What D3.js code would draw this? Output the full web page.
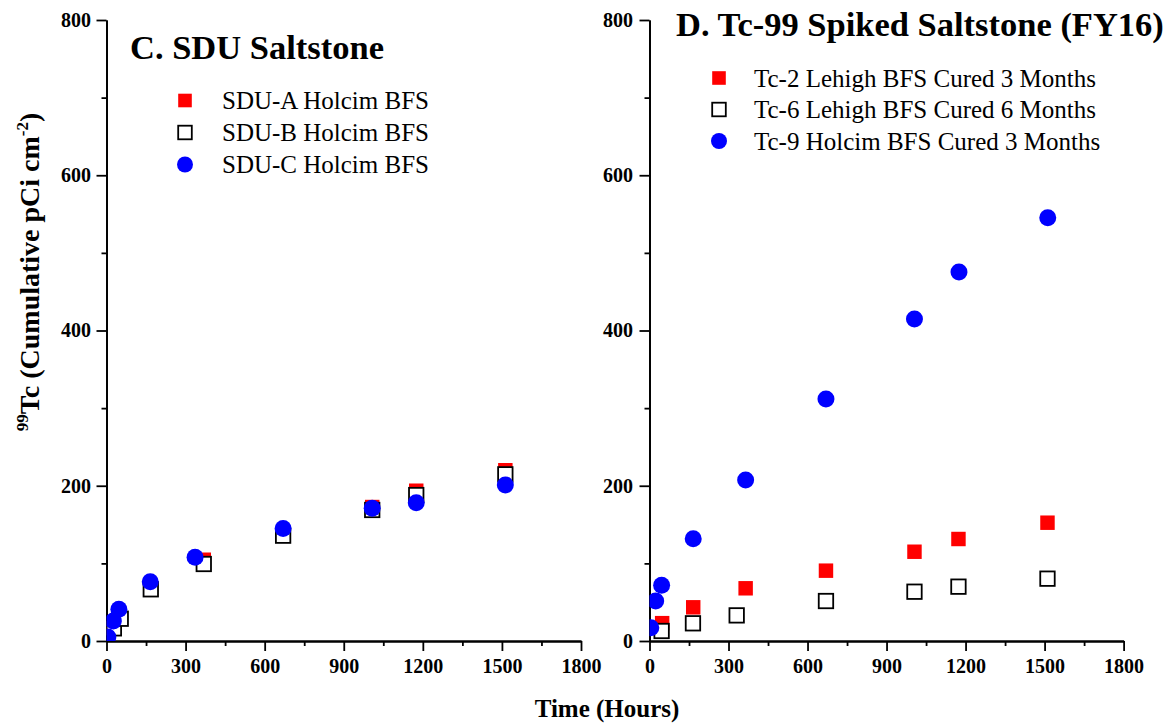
<!DOCTYPE html>
<html>
<head>
<meta charset="utf-8">
<script src="https://cdn.jsdelivr.net/npm/d3@7"></script>
<style>
	body { margin: 0; background: #fff; }
	svg { display: block; }
	text { font-family: "Liberation Serif", "Times New Roman", serif; fill: #000; }
</style>
</head>
<body>
<svg id="chart"></svg>
<script>
// ticks shared by both panels
const xMajorTicks = [0, 300, 600, 900, 1200, 1500, 1800];
const xMinorTicks = [150, 450, 750, 1050, 1350, 1650];
const yMajorTicks = [0, 200, 400, 600, 800];
const yMinorTicks = [100, 300, 500, 700];

// Panel C - SDU saltstone
const sduTitle = "C. SDU Saltstone";
const sduNames = ["SDU-A Holcim BFS", "SDU-B Holcim BFS", "SDU-C Holcim BFS"];
const sduA_hours = [28, 54, 168, 369, 670, 1008, 1175, 1513];
const sduA_tc = [17, 29, 67, 104.7, 136, 172.6, 193.6, 220];
const sduB_hours = [28, 54, 168, 369, 670, 1008, 1175, 1513];
const sduB_tc = [16.3, 28.7, 66.6, 99.2, 135.7, 168.8, 188, 214.7];
const sduC_hours = [5, 26, 47, 166, 336, 670, 1008, 1175, 1513];
const sduC_tc = [5, 25.8, 40.8, 76.4, 107.8, 145, 171, 178, 201];

// Panel D - Tc-99 spiked saltstone
const spikedTitle = "D. Tc-99 Spiked Saltstone (FY16)";
const spikedNames = ["Tc-2 Lehigh BFS Cured 3 Months", "Tc-6 Lehigh BFS Cured 6 Months", "Tc-9 Holcim BFS Cured 3 Months"];
const tc2_hours = [48, 166, 365, 670, 1006, 1173, 1511];
const tc2_tc = [23, 43.4, 67.9, 90.6, 115, 131.4, 152.4];
const tc6_hours = [46, 165, 331, 670, 1006, 1173, 1511];
const tc6_tc = [12.9, 22.8, 33, 51.5, 63.5, 70, 80.3];
const tc9_hours = [5, 23.5, 46, 166, 365, 670, 1006, 1175, 1512];
const tc9_tc = [17, 51.5, 71.7, 131.8, 207.4, 311.7, 414.8, 475.3, 545.3];

const width = 1174;
const height = 723;

const svg = d3.select("#chart")
	.attr("width", width)
	.attr("height", height);

const y = d3.scaleLinear().domain([0, 800]).range([641, 20]);

const markerTypes = ["filled", "open", "circle"];

function drawMarker(sel, type, r) {
	if (type === "circle") {
		sel.append("circle")
			.attr("r", r)
			.attr("fill", "#0000ff");
	} else {
		const s = r * 1.7;
		sel.append("rect")
			.attr("x", -s / 2)
			.attr("y", -s / 2)
			.attr("width", s)
			.attr("height", s)
			.attr("fill", type === "filled" ? "#ff0000" : "#fff")
			.attr("stroke", type === "filled" ? "none" : "#000")
			.attr("stroke-width", 1.8);
	}
}

function styleAxis(g) {
	g.selectAll("path, line")
		.attr("stroke", "#000")
		.attr("stroke-width", 1.8);
	g.selectAll("text")
		.attr("font-size", 20)
		.attr("font-weight", "bold")
		.attr("font-family", "'Liberation Serif', 'Times New Roman', serif")
		.attr("fill", "#000");
}

function drawPanel(opts) {
	const x = d3.scaleLinear().domain([0, 1800]).range(opts.xRange);
	const group = svg.append("g");

	// minor ticks first, then major ticks with labels
	group.append("g")
		.attr("transform", `translate(0,${y(0)})`)
		.call(d3.axisBottom(x).tickValues(xMinorTicks).tickSize(5).tickSizeOuter(0).tickFormat(""))
		.call(styleAxis);
	group.append("g")
		.attr("transform", `translate(0,${y(0)})`)
		.call(d3.axisBottom(x).tickValues(xMajorTicks).tickSize(10).tickSizeOuter(0).tickPadding(8).tickFormat(d3.format("d")))
		.call(styleAxis);
	group.append("g")
		.attr("transform", `translate(${x(0)},0)`)
		.call(d3.axisLeft(y).tickValues(yMinorTicks).tickSize(5).tickSizeOuter(0).tickFormat(""))
		.call(styleAxis);
	group.append("g")
		.attr("transform", `translate(${x(0)},0)`)
		.call(d3.axisLeft(y).tickValues(yMajorTicks).tickSize(10).tickSizeOuter(0).tickPadding(opts.yPad).tickFormat(d3.format("d")))
		.call(styleAxis);

	// clip markers to the plot area
	group.append("clipPath")
		.attr("id", opts.id)
		.append("rect")
		.attr("x", x(0))
		.attr("y", y(800))
		.attr("width", x(1800) - x(0))
		.attr("height", y(0) - y(800));

	const plot = group.append("g").attr("clip-path", `url(#${opts.id})`);

	opts.series.forEach((s, i) => {
		const pts = s.hours.map((h, j) => [h, s.values[j]]);
		plot.append("g")
			.selectAll("g")
			.data(pts)
			.enter().append("g")
			.attr("transform", d => `translate(${x(d[0])},${y(d[1])})`)
			.each(function () {
				drawMarker(d3.select(this), markerTypes[i], 8.5);
			});
	});

	// panel title
	group.append("text")
		.attr("x", opts.titleX)
		.attr("y", opts.titleY)
		.attr("font-size", 34.5)
		.attr("font-weight", "bold")
		.text(opts.title);

	// legend
	const legendItems = group.selectAll(".legend-item")
		.data(opts.series)
		.enter().append("g")
		.attr("class", "legend-item")
		.attr("transform", (d, i) => `translate(${opts.legendX},${opts.legendY + i * opts.legendStep})`);

	legendItems.each(function (d, i) {
		drawMarker(d3.select(this), markerTypes[i], 8);
	});

	legendItems.append("text")
		.attr("x", opts.legendTextDx)
		.attr("y", 8.5)
		.attr("font-size", 25)
		.text(d => d.name);
}

drawPanel({
	id: "clip-c",
	xRange: [106.5, 581],
	yPad: 5.5,
	title: sduTitle,
	titleX: 130,
	titleY: 59,
	legendX: 185,
	legendY: 100.5,
	legendStep: 32,
	legendTextDx: 37,
	series: [
		{ name: sduNames[0], hours: sduA_hours, values: sduA_tc },
		{ name: sduNames[1], hours: sduB_hours, values: sduB_tc },
		{ name: sduNames[2], hours: sduC_hours, values: sduC_tc }
	]
});

drawPanel({
	id: "clip-d",
	xRange: [649.5, 1123.6],
	yPad: 6.5,
	title: spikedTitle,
	titleX: 676,
	titleY: 36,
	legendX: 719,
	legendY: 78,
	legendStep: 31.5,
	legendTextDx: 35,
	series: [
		{ name: spikedNames[0], hours: tc2_hours, values: tc2_tc },
		{ name: spikedNames[1], hours: tc6_hours, values: tc6_tc },
		{ name: spikedNames[2], hours: tc9_hours, values: tc9_tc }
	]
});

// shared axis titles
svg.append("text")
	.attr("x", 607)
	.attr("y", 717)
	.attr("text-anchor", "middle")
	.attr("font-size", 25)
	.attr("font-weight", "bold")
	.text("Time (Hours)");

const yLabel = svg.append("text")
	.attr("transform", "translate(39,272) rotate(-90)")
	.attr("text-anchor", "middle")
	.attr("font-size", 28)
	.attr("font-weight", "bold");
yLabel.append("tspan").attr("font-size", 17).attr("dy", -11).text("99");
yLabel.append("tspan").attr("dy", 11).text("Tc (Cumulative pCi cm");
yLabel.append("tspan").attr("font-size", 17).attr("dy", -11).text("-2");
yLabel.append("tspan").attr("dy", 11).text(")");
</script>
</body>
</html>
